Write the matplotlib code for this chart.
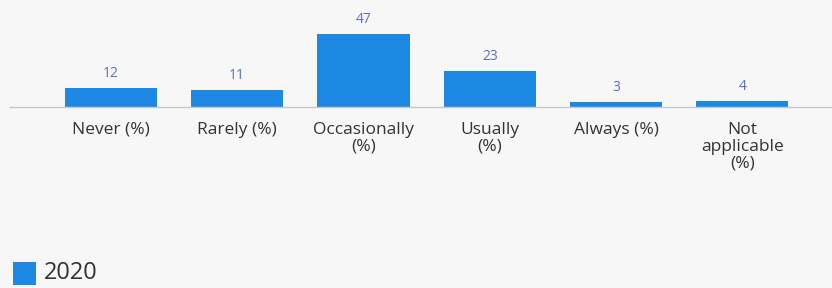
import matplotlib
matplotlib.use("Agg")
import matplotlib.pyplot as plt
from matplotlib.patches import Rectangle

# -------------------- data --------------------
categories = ["Never (%)", "Rarely (%)", "Occasionally\n(%)", "Usually\n(%)",
              "Always (%)", "Not\napplicable\n(%)"]
values = [12, 11, 47, 23, 3, 4]
series_name = "2020"

BG = "#f7f7f7"
BAR = "#1e88e5"
VALUE_COLOR = "#5b6fc4"
TEXT = "#333333"
FONT = ["Open Sans", "DejaVu Sans"]

plt.rcParams["font.family"] = FONT

W, H = 832, 288
fig = plt.figure(figsize=(W / 100, H / 100), dpi=100, facecolor=BG)

# axes in pixel terms: baseline at y=107 from top, line runs x=10..832
base_px = 107
top_px = 10
ax = fig.add_axes([10 / W, (H - base_px) / H, (W - 10) / W, (base_px - top_px) / H])
ax.set_facecolor(BG)

x = list(range(len(categories)))
ax.bar(x, values, width=0.73, color=BAR, zorder=2)
ax.set_xlim(-0.8, 5.71)
ax.set_ylim(0, (base_px - top_px) / 1.553)

for xi, v in zip(x, values):
    ax.annotate(str(v), (xi, v), xytext=(0, 5), textcoords="offset points",
                ha="center", va="bottom", fontsize=10, color=VALUE_COLOR)

for s in ["top", "right", "left"]:
    ax.spines[s].set_visible(False)
ax.spines["bottom"].set_color("#c8c8c8")
ax.spines["bottom"].set_linewidth(1)
ax.set_yticks([])
ax.set_xticks(x)
ax.set_xticklabels(categories, fontsize=12.5, color=TEXT, linespacing=1.1)
ax.tick_params(axis="x", length=0, pad=10.5)

# legend at bottom left
fig.patches.append(Rectangle((13 / W, (H - 285) / H), 23 / W, 23 / H,
                             transform=fig.transFigure, facecolor=BAR,
                             edgecolor="none", figure=fig))
fig.text(44 / W, (H - 273) / H, series_name, fontsize=17, color=TEXT,
         ha="left", va="center")

fig.savefig("out.png", dpi=100, facecolor=BG)
